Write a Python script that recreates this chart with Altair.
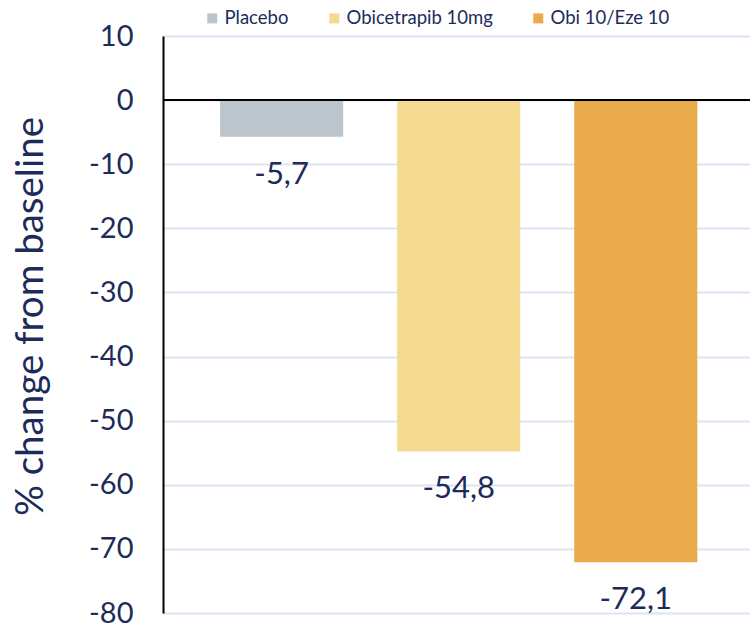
import altair as alt
import pandas as pd

# Treatment arms and their mean % change from baseline
groups = ["Placebo", "Obicetrapib 10mg", "Obi 10/Eze 10"]
changes = [-5.7, -54.8, -72.1]
colors = ["#bcc5cc", "#f5da91", "#e9aa4c"]
y_ticks = [10, 0, -10, -20, -30, -40, -50, -60, -70, -80]

navy = "#1d2b5b"
grid = "#dde4f4"

df = pd.DataFrame({
    "group": groups,
    "change": changes,
    "label": [f"{v:.1f}".replace(".", ",") for v in changes],
})

x_enc = alt.X(
    "group:N",
    sort=groups,
    axis=None,
    scale=alt.Scale(paddingInner=0.305, paddingOuter=0.31, align=0.52),
)
y_scale = alt.Scale(domain=[-80, 10], nice=False, zero=False)

bars = alt.Chart(df).mark_bar().encode(
    x=x_enc,
    y=alt.Y(
        "change:Q",
        scale=y_scale,
        axis=alt.Axis(
            values=y_ticks,
            labelExpr="toString(datum.value)",
            title="% change from baseline",
            titleFont="Lato",
            titleFontSize=38.5,
            titleFontWeight="normal",
            titleColor=navy,
            titleAngle=270,
            titleAlign="center",
            titleBaseline="alphabetic",
            titleX=-121,
            titleY=280,
            labelFont="Lato",
            labelFontSize=29,
            labelColor=navy,
            labelPadding=30,
            ticks=False,
            domain=True,
            domainColor="#000000",
            domainWidth=2,
            grid=True,
            gridColor=grid,
            gridWidth=2,
        ),
    ),
    y2=alt.datum(0),
    color=alt.Color(
        "group:N",
        sort=groups,
        scale=alt.Scale(domain=groups, range=colors),
        legend=alt.Legend(
            title=None,
            orient="none",
            legendX=40,
            legendY=-27,
            direction="horizontal",
            symbolType="square",
            symbolSize=100,
            symbolStrokeWidth=0,
            labelFont="Lato",
            labelFontSize=18.5,
            labelColor=navy,
            labelOffset=3,
            columnPadding=36,
        ),
    ),
)

zero_rule = alt.Chart(pd.DataFrame({"y": [0]})).mark_rule(
    color="#000000", strokeWidth=2
).encode(y=alt.Y("y:Q", scale=y_scale))

labels = alt.Chart(df).mark_text(
    font="Lato",
    fontSize=31,
    color=navy,
    baseline="alphabetic",
    dy=47,
).encode(
    x=x_enc,
    y=alt.Y("change:Q", scale=y_scale),
    text="label:N",
)

chart = (
    alt.layer(bars, zero_rule, labels)
    .properties(
        width=587,
        height=577,
        autosize=alt.AutoSizeParams(type="none"),
        padding={"left": 163, "top": 36, "right": 0, "bottom": 16},
        background="#ffffff",
    )
    .configure_view(stroke=None)
)

chart.save("out.html", embed_options={"renderer": "svg", "actions": False})
